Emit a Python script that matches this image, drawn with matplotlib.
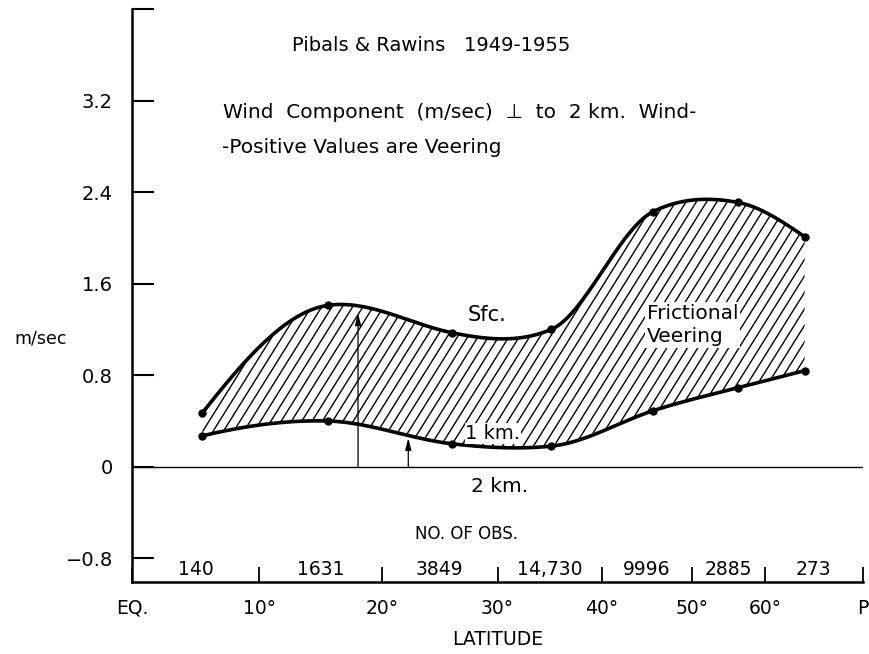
import numpy as np
import matplotlib
matplotlib.use('Agg')
import matplotlib.pyplot as plt
from matplotlib.collections import LineCollection

plt.rcParams['font.family'] = ['DejaVu Sans']

# latitude (deg) of the plotted points
lats = [5.5, 15.5, 26, 35, 45.5, 56, 67]
sfc = [0.47, 1.41, 1.17, 1.20, 2.23, 2.31, 2.01]
km1 = [0.27, 0.40, 0.20, 0.18, 0.49, 0.69, 0.84]

# number of observations per latitude band
band_edges = [0, 10, 20, 30, 40, 50, 60, 90]
n_obs = ['140', '1631', '3849', '14,730', '9996', '2885', '273']

xtick_vals = [0, 10, 20, 30, 40, 50, 60, 90]
xtick_labels = ['EQ.', '10°', '20°', '30°', '40°', '50°', '60°', 'P']
ytick_vals = [-0.8, 0, 0.8, 1.6, 2.4, 3.2, 4.0]
ytick_labels = ['\u22120.8', '0', '0.8', '1.6', '2.4', '3.2', '']

# arrows: latitude, top value
arrow_lat = [18, 22.2]
arrow_top = [1.34, 0.25]


def fwd(x):
    return np.sin(np.radians(np.clip(x, 0, 90)))


def inv(u):
    return np.degrees(np.arcsin(np.clip(u, 0, 1)))


def natural_spline(x, y, xs):
    x = np.asarray(x, float)
    y = np.asarray(y, float)
    n = len(x)
    h = np.diff(x)
    A = np.zeros((n, n))
    b = np.zeros(n)
    A[0, 0] = A[-1, -1] = 1
    for i in range(1, n - 1):
        A[i, i - 1] = h[i - 1]
        A[i, i] = 2 * (h[i - 1] + h[i])
        A[i, i + 1] = h[i]
        b[i] = 3 * ((y[i + 1] - y[i]) / h[i] - (y[i] - y[i - 1]) / h[i - 1])
    c = np.linalg.solve(A, b)
    bb = (y[1:] - y[:-1]) / h - h * (2 * c[:-1] + c[1:]) / 3
    d = (c[1:] - c[:-1]) / (3 * h)
    idx = np.clip(np.searchsorted(x, xs) - 1, 0, n - 2)
    t = xs - x[idx]
    return y[idx] + bb[idx] * t + c[idx] * t ** 2 + d[idx] * t ** 3


def pchip(x, y, xs):
    x = np.asarray(x, float)
    y = np.asarray(y, float)
    n = len(x)
    h = np.diff(x)
    dl = np.diff(y) / h
    d = np.zeros(n)
    for k in range(1, n - 1):
        if dl[k - 1] * dl[k] > 0:
            w1 = 2 * h[k] + h[k - 1]
            w2 = h[k] + 2 * h[k - 1]
            d[k] = (w1 + w2) / (w1 / dl[k - 1] + w2 / dl[k])
    d[0] = ((2 * h[0] + h[1]) * dl[0] - h[0] * dl[1]) / (h[0] + h[1])
    if np.sign(d[0]) != np.sign(dl[0]):
        d[0] = 0
    d[-1] = ((2 * h[-1] + h[-2]) * dl[-1] - h[-1] * dl[-2]) / (h[-1] + h[-2])
    if np.sign(d[-1]) != np.sign(dl[-1]):
        d[-1] = 0
    idx = np.clip(np.searchsorted(x, xs) - 1, 0, n - 2)
    t = (xs - x[idx]) / h[idx]
    h00 = 2 * t ** 3 - 3 * t ** 2 + 1
    h10 = t ** 3 - 2 * t ** 2 + t
    h01 = -2 * t ** 3 + 3 * t ** 2
    h11 = t ** 3 - t ** 2
    return (h00 * y[idx] + h10 * h[idx] * d[idx] + h01 * y[idx + 1]
            + h11 * h[idx] * d[idx + 1])


def smooth(x, y, xs):
    # blend of a natural spline and a shape-preserving one, like a drawn curve
    return 0.5 * (natural_spline(x, y, xs) + pchip(x, y, xs))


fig = plt.figure(figsize=(8.7, 6.54), dpi=100)
ax = fig.add_axes([0.1521, 0.1096, 0.8395, 0.8766])
ax.set_xscale('function', functions=(fwd, inv))
ax.set_xlim(0, 90)
ax.set_ylim(-1.01, 4.0)

# smooth curves in sine-latitude space
u_pts = fwd(np.array(lats))
uu = np.linspace(u_pts[0], u_pts[-1], 400)
lat_d = inv(uu)
sfc_d = smooth(u_pts, sfc, uu)
km1_d = smooth(u_pts, km1, uu)

poly = ax.fill_between(lat_d, km1_d, sfc_d, facecolor='none', edgecolor='none')

# slanted hatching clipped to the shaded region
bb = ax.get_window_extent()
wpx, hpx = bb.width, bb.height
ang = np.radians(58)
shift = hpx / np.tan(ang) / wpx
step = 10.3 / wpx
segs = [[(c, 0), (c + shift, 1)] for c in np.arange(-shift - 0.05, 1.05, step)]
lc = LineCollection(segs, transform=ax.transAxes, colors='black', linewidths=1.0)
lc.set_clip_path(poly.get_paths()[0], ax.transData)
ax.add_collection(lc, autolim=False)

ax.plot(lat_d, sfc_d, color='black', lw=2.6, solid_capstyle='round')
ax.plot(lat_d, km1_d, color='black', lw=2.6, solid_capstyle='round')
ax.plot(lats, sfc, 'o', color='black', ms=5)
ax.plot(lats, km1, 'o', color='black', ms=5)

ax.axhline(0, color='black', lw=1.0)

for la, top in zip(arrow_lat, arrow_top):
    ax.annotate('', xy=(la, top), xytext=(la, 0),
                arrowprops=dict(arrowstyle='-|>,head_length=0.7,head_width=0.18',
                                color='black', lw=0.9, shrinkA=0, shrinkB=0))

# axes styling
for s in ['top', 'right']:
    ax.spines[s].set_visible(False)
for s in ['left', 'bottom']:
    ax.spines[s].set_linewidth(1.8)

ax.set_yticks(ytick_vals)
ax.set_yticklabels(ytick_labels)
ax.tick_params(axis='y', direction='in', length=16, width=1.5, pad=14, labelsize=14)
ax.set_xticks(xtick_vals)
ax.set_xticklabels(xtick_labels)
ax.xaxis.set_minor_locator(matplotlib.ticker.NullLocator())
ax.tick_params(axis='x', direction='in', length=11, width=1.3, pad=12, labelsize=13.5)

# observation counts inside each band
trans = matplotlib.transforms.blended_transform_factory(ax.transData, ax.transAxes)
for lo, hi, n in zip(band_edges[:-1], band_edges[1:], n_obs):
    mid = inv((fwd(lo) + fwd(hi)) / 2)
    ax.text(mid, 0.023, n, transform=trans, ha='center', va='center', fontsize=13.5)
ax.text(0.457, 0.085, 'NO. OF OBS.', transform=ax.transAxes, ha='center', va='center', fontsize=12)
ax.text(0.5006, -0.099, 'LATITUDE', transform=ax.transAxes, ha='center', va='center', fontsize=13.5)
ax.text(-0.125, 0.426, 'm/sec', transform=ax.transAxes, ha='center', va='center', fontsize=12.5)

# titles
ax.text(0.2187, 0.937, 'Pibals & Rawins   1949-1955', transform=ax.transAxes,
        ha='left', va='center', fontsize=14)
ax.text(0.124, 0.819, 'Wind  Component  (m/sec)  \u22a5  to  2 km.  Wind-',
        transform=ax.transAxes, ha='left', va='center', fontsize=14.5)
ax.text(0.123, 0.758, '-Positive Values are Veering', transform=ax.transAxes,
        ha='left', va='center', fontsize=14.5)

# curve labels
ax.text(0.4856, 0.466, 'Sfc.', transform=ax.transAxes, ha='center', va='center', fontsize=15)
ax.text(0.4938, 0.260, '1 km.', transform=ax.transAxes, ha='center', va='center', fontsize=14,
        bbox=dict(facecolor='white', edgecolor='none', pad=0.5))
ax.text(0.5034, 0.168, '2 km.', transform=ax.transAxes, ha='center', va='center', fontsize=14.5)
ax.text(0.7044, 0.449, 'Frictional\nVeering', transform=ax.transAxes, ha='left', va='center',
        fontsize=14.5, linespacing=1.3,
        bbox=dict(facecolor='white', edgecolor='none', pad=1))

fig.savefig('out.png', dpi=100)
